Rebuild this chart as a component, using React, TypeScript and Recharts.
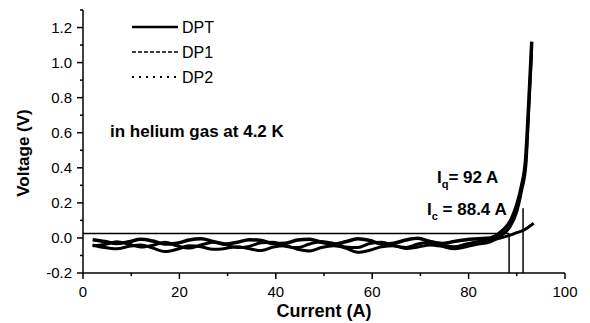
import React from "react";
import {LineChart, Line, XAxis, YAxis, ReferenceLine} from "recharts";

// current (A) sample points shared by the noisy part of the three curves
const noiseCurrent = [2, 4.5, 7, 9.5, 12, 14.5, 17, 19.5, 22, 24.5, 27, 29.5, 32, 34.5, 37, 39.5, 42, 44.5, 47, 49.5,
    52, 54.5, 57, 59.5, 62, 64.5, 67, 69.5, 72, 74.5, 77, 79.5, 82, 84.5];

const dptNoise = [-0.010, -0.020, -0.032, -0.022, -0.008, -0.018, -0.035, -0.030, -0.012, -0.005, -0.020, -0.035, -0.025,
    -0.010, -0.015, -0.032, -0.030, -0.012, -0.008, -0.025, -0.036, -0.022, -0.005, -0.015, -0.035, -0.030, -0.012,
    -0.002, -0.020, -0.032, -0.020, -0.010, -0.005, 0.000];
const dp1Noise = [-0.040, -0.055, -0.062, -0.048, -0.040, -0.058, -0.078, -0.065, -0.045, -0.050, -0.065, -0.060, -0.050,
    -0.062, -0.072, -0.052, -0.045, -0.065, -0.075, -0.055, -0.045, -0.058, -0.082, -0.070, -0.050, -0.045, -0.060,
    -0.052, -0.040, -0.048, -0.062, -0.050, -0.035, -0.022];
const dp2Noise = [-0.045, -0.038, -0.022, -0.035, -0.052, -0.042, -0.025, -0.045, -0.058, -0.040, -0.025, -0.038, -0.055,
    -0.048, -0.028, -0.025, -0.048, -0.055, -0.035, -0.020, -0.032, -0.052, -0.055, -0.032, -0.025, -0.045, -0.055,
    -0.035, -0.025, -0.040, -0.050, -0.035, -0.020, -0.012];

// transition part
const dptTailCurrent = [86.5, 88.9, 90, 91, 91.8, 92.5, 93.1];
const dptTailVoltage = [0.03, 0.11, 0.19, 0.30, 0.44, 0.78, 1.12];
const dp1TailCurrent = [86.5, 88.5, 90, 91, 91.9, 92.5, 93.05];
const dp1TailVoltage = [0.01, 0.06, 0.15, 0.27, 0.42, 0.75, 1.05];
const dp2TailCurrent = [86, 88, 90, 91.5, 92.6, 93.5];
const dp2TailVoltage = [-0.005, 0.01, 0.03, 0.045, 0.065, 0.085];

const criterion = 0.025;
const icValue = 88.4;
const iqLinePos = 91.3;
const iqTop = 0.17;

const xTicks = [0, 10, 20, 30, 40, 50, 60, 70, 80, 90, 100];
const yTicks = [-0.2, -0.1, 0, 0.1, 0.2, 0.3, 0.4, 0.5, 0.6, 0.7, 0.8, 0.9, 1.0, 1.1, 1.2, 1.3];

const build = (xs: number[], ys: number[], tx: number[], ty: number[]) =>
    [...xs.map((x, i) => ({x, y: ys[i]})), ...tx.map((x, i) => ({x, y: ty[i]}))];

const dpt = build(noiseCurrent, dptNoise, dptTailCurrent, dptTailVoltage);
const dp1 = build(noiseCurrent, dp1Noise, dp1TailCurrent, dp1TailVoltage);
const dp2 = build(noiseCurrent, dp2Noise, dp2TailCurrent, dp2TailVoltage);

const FONT = "'Liberation Sans', Arial, sans-serif";

const XTick = (props: any) => {
    const {x, y, index} = props;
    const major = index % 2 === 0;
    return (
        <g>
            <line x1={x} y1={y} x2={x} y2={y + (major ? 6 : 3)} stroke="#000" strokeWidth={1.5}/>
            {major && <text x={x} y={y + 24} textAnchor="middle" fontSize={15} fontFamily={FONT} fill="#000">{xTicks[index]}</text>}
        </g>
    );
};

const YTick = (props: any) => {
    const {x, y, index} = props;
    const major = index % 2 === 0 && index < yTicks.length - 1;
    return (
        <g>
            <line x1={x} y1={y} x2={x - (major ? 6 : 3)} y2={y} stroke="#000" strokeWidth={1.5}/>
            {major && <text x={x - 11} y={y} dy="0.35em" textAnchor="end" fontSize={15} fontFamily={FONT} fill="#000">{yTicks[index].toFixed(1)}</text>}
        </g>
    );
};

const App = () => {
    return (
        <div style={{position: "absolute", left: 0, top: 0, width: 590, height: 323, background: "#fff"}}>
            <LineChart width={590} height={323} margin={{top: 10, right: 25, left: 33, bottom: 20}}>
                <XAxis type="number" dataKey="x" domain={[0, 100]} ticks={xTicks} interval={0} tick={<XTick/>} tickLine={false}
                       tickSize={0} tickMargin={0} height={30} stroke="#000" strokeWidth={1.5}
                       label={(p: any) => (
                           <text x={p.viewBox.x + p.viewBox.width / 2} y={p.viewBox.y + 44} textAnchor="middle"
                                 fontSize={18} fontWeight="bold" fontFamily={FONT}>Current (A)</text>
                       )}/>
                <YAxis type="number" domain={[-0.2, 1.3]} ticks={yTicks} interval={0} tick={<YTick/>} tickLine={false}
                       tickSize={0} tickMargin={0} width={50} stroke="#000" strokeWidth={1.5}
                       label={() => (
                           <text x={23} y={153} dy="0.35em" textAnchor="middle" transform="rotate(-90, 23, 153)"
                                 fontSize={17} fontWeight="bold" fontFamily={FONT}>Voltage (V)</text>
                       )}/>
                <ReferenceLine segment={[{x: 0, y: criterion}, {x: icValue, y: criterion}]} stroke="#000" strokeWidth={1.5}/>
                <ReferenceLine segment={[{x: icValue, y: -0.2}, {x: icValue, y: criterion}]} stroke="#000" strokeWidth={1.5}/>
                <ReferenceLine segment={[{x: iqLinePos, y: -0.2}, {x: iqLinePos, y: iqTop}]} stroke="#000" strokeWidth={1.5}/>
                <Line data={dp2} dataKey="y" name="DP2" type="monotone" stroke="#000" strokeWidth={3} dot={false} isAnimationActive={false}/>
                <Line data={dp1} dataKey="y" name="DP1" type="monotone" stroke="#000" strokeWidth={3} dot={false} isAnimationActive={false}/>
                <Line data={dpt} dataKey="y" name="DPT" type="monotone" stroke="#000" strokeWidth={3.5} dot={false} isAnimationActive={false}/>
            </LineChart>
            <svg width={590} height={323} style={{position: "absolute", left: 0, top: 0, pointerEvents: "none"}}
                 fontFamily={FONT}>
                <line x1={132} y1={27} x2={178} y2={27} stroke="#000" strokeWidth={2.5}/>
                <text x={182} y={27} dy="0.35em" fontSize={16}>DPT</text>
                <line x1={132} y1={52} x2={178} y2={52} stroke="#000" strokeWidth={1.5} strokeDasharray="4 2"/>
                <text x={182} y={52} dy="0.35em" fontSize={16}>DP1</text>
                <line x1={132} y1={77} x2={178} y2={77} stroke="#000" strokeWidth={2} strokeDasharray="2 5"/>
                <text x={182} y={77} dy="0.35em" fontSize={16}>DP2</text>
                <text x={110} y={137} fontSize={17} fontWeight="bold">in helium gas at 4.2 K</text>
                <text x={437} y={183} fontSize={17} fontWeight="bold">I<tspan dy={5} fontSize={11}>q</tspan><tspan dy={-5}>= 92 A</tspan></text>
                <text x={427} y={215} fontSize={17} fontWeight="bold">I<tspan dy={5} fontSize={11}>c</tspan><tspan dy={-5}> = 88.4 A</tspan></text>
            </svg>
        </div>
    );
};

export default App;
